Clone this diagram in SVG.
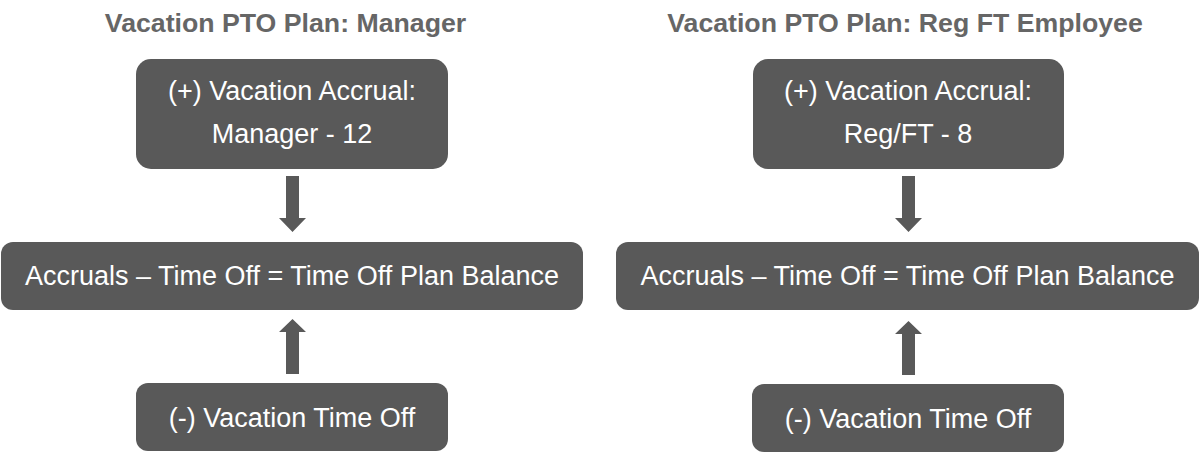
<svg xmlns="http://www.w3.org/2000/svg" width="1200" height="453" viewBox="0 0 1200 453">
<style>
.box{fill:#595959}
.arrow{fill:#595959}
.title{font-family:"Liberation Sans",Arial,sans-serif;font-weight:bold;font-size:26.7px;fill:#666666;text-anchor:middle}
.lbl{font-family:"Liberation Sans",Arial,sans-serif;font-size:27px;fill:#ffffff;text-anchor:middle}
</style>
<rect width="1200" height="453" fill="#ffffff"/>
<text class="title" x="285.5" y="32">Vacation PTO Plan: Manager</text>
<text class="title" x="905" y="32">Vacation PTO Plan: Reg FT Employee</text>
<g id="connectors">
<path class="arrow" d="M286,176 H299 V218 H306 L292.5,232 L279,218 H286 Z"/>
<path class="arrow" d="M286,374 H299 V332 H306 L292.5,319 L279,332 H286 Z"/>
<path class="arrow" d="M902,176 H915 V218 H922 L908.5,232 L895,218 H902 Z"/>
<path class="arrow" d="M902,375 H915 V334 H922 L908.5,321 L895,334 H902 Z"/>
</g>
<g id="accrual-manager">
<rect class="box" x="136" y="59" width="312" height="110" rx="15"/>
<text class="lbl" x="292" y="100">(+) Vacation Accrual:</text>
<text class="lbl" x="292" y="143">Manager - 12</text>
</g>
<g id="balance-manager">
<rect class="box" x="1" y="242" width="582" height="68" rx="12"/>
<text class="lbl" x="292" y="285">Accruals – Time Off = Time Off Plan Balance</text>
</g>
<g id="timeoff-manager">
<rect class="box" x="136" y="383" width="312" height="68" rx="12"/>
<text class="lbl" x="292" y="427">(-) Vacation Time Off</text>
</g>
<g id="accrual-regft">
<rect class="box" x="753" y="59" width="311" height="110" rx="15"/>
<text class="lbl" x="908" y="100">(+) Vacation Accrual:</text>
<text class="lbl" x="908" y="143">Reg/FT - 8</text>
</g>
<g id="balance-regft">
<rect class="box" x="616" y="242" width="583" height="68" rx="12"/>
<text class="lbl" x="907.5" y="285">Accruals – Time Off = Time Off Plan Balance</text>
</g>
<g id="timeoff-regft">
<rect class="box" x="752" y="384" width="312" height="68" rx="12"/>
<text class="lbl" x="908" y="428">(-) Vacation Time Off</text>
</g>
</svg>
